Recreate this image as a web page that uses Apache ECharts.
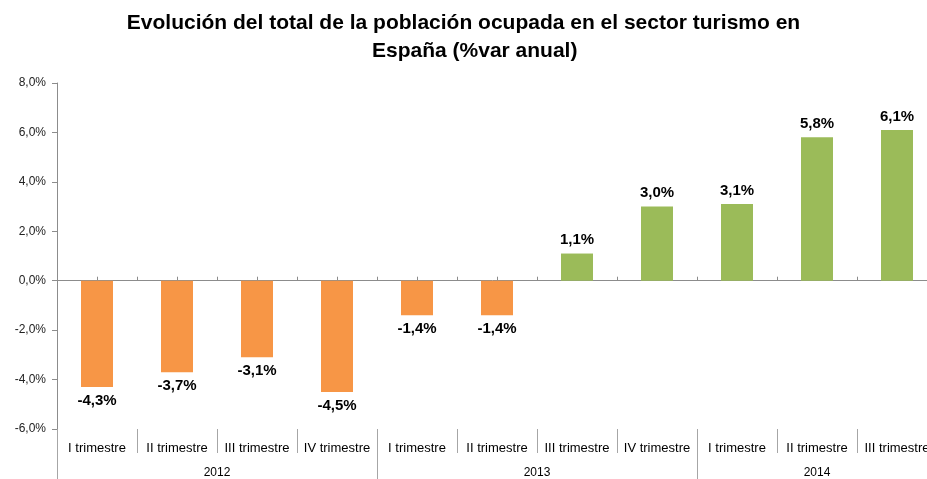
<!DOCTYPE html>
<html>
<head>
<meta charset="utf-8">
<script src="https://cdn.jsdelivr.net/npm/echarts@6/dist/echarts.min.js"></script>
<style>
  html, body { margin: 0; padding: 0; background: #fff; }
  #chart { width: 927px; height: 479px; }
</style>
</head>
<body>
<div id="chart"></div>
<script>
// datos
var titleLines = ['Evolución del total de la población ocupada en el sector turismo en', 'España (%var anual)']
var trimestres = ['I trimestre', 'II trimestre', 'III trimestre', 'IV trimestre',
  'I trimestre', 'II trimestre', 'III trimestre', 'IV trimestre',
  'I trimestre', 'II trimestre', 'III trimestre']
var years = ['2012', '2013', '2014']
var yearCounts = [4, 4, 3]
var values = [-4.3, -3.7, -3.1, -4.5, -1.4, -1.4, 1.1, 3.0, 3.1, 5.8, 6.1]

var fontFamily = 'Liberation Sans'
var orange = '#F79646'
var green = '#9BBB59'
var axisGrey = '#8C8C8C'

function fmt (v, dec) {
  return v.toFixed(dec).replace('.', ',') + '%'
}

// limites y centros de cada grupo de años (en unidades de categoria)
var yearBounds = []
var yearCenters = []
var acc = 0
yearCounts.forEach(function (n) {
  yearBounds.push(acc)
  yearCenters.push(acc + n / 2)
  acc += n
})

var titleStyle = {
  fontFamily: fontFamily,
  fontSize: 21,
  fontWeight: 'bold',
  color: '#000'
}

var chart = echarts.init(document.getElementById('chart'))

var option = {
  animation: false,
  textStyle: { fontFamily: fontFamily },
  title: [
    { text: titleLines[0], left: 'center', top: 13, padding: 0, textStyle: titleStyle },
    { text: titleLines[1], left: 372, top: 41, padding: 0, textStyle: titleStyle }
  ],
  grid: {
    left: 57,
    top: 83,
    width: 880,
    height: 346,
    outerBoundsMode: 'none',
    containLabel: false
  },
  xAxis: [
    {
      // etiquetas de trimestre
      type: 'category',
      data: trimestres,
      position: 'bottom',
      axisLine: { show: false, onZero: false },
      axisTick: { show: true, length: 24, lineStyle: { color: '#A6A6A6' } },
      axisLabel: { margin: 13, fontSize: 13, color: '#000', interval: 0 }
    },
    {
      // etiquetas de año
      type: 'value',
      min: 0,
      max: trimestres.length,
      position: 'bottom',
      axisLine: { show: false, onZero: false },
      splitLine: { show: false },
      axisTick: {
        show: true,
        length: 50,
        customValues: yearBounds,
        lineStyle: { color: '#A6A6A6' }
      },
      axisLabel: {
        margin: 38,
        fontSize: 12,
        color: '#000',
        customValues: yearCenters,
        formatter: function (v) {
          var i = yearCenters.indexOf(v)
          return i >= 0 ? years[i] : ''
        }
      }
    },
    {
      // linea del cero con marcas
      type: 'value',
      min: 0,
      max: trimestres.length,
      interval: 0.5,
      axisLine: { show: true, onZero: true, lineStyle: { color: axisGrey } },
      axisTick: { show: true, length: 4, lineStyle: { color: axisGrey } },
      axisLabel: { show: false },
      splitLine: { show: false }
    }
  ],
  yAxis: {
    type: 'value',
    min: -6,
    max: 8,
    interval: 2,
    axisLine: { show: true, lineStyle: { color: axisGrey } },
    axisTick: { show: true, length: 5, lineStyle: { color: axisGrey } },
    splitLine: { show: false },
    axisLabel: {
      margin: 11,
      fontSize: 12,
      color: '#222',
      formatter: function (v) { return fmt(v, 1) }
    }
  },
  series: [
    {
      type: 'bar',
      xAxisIndex: 0,
      barWidth: 32,
      data: values.map(function (v) {
        return {
          value: v,
          itemStyle: { color: v < 0 ? orange : green },
          label: { position: v < 0 ? 'bottom' : 'top' }
        }
      }),
      label: {
        show: true,
        distance: 6,
        fontSize: 15,
        fontWeight: 'bold',
        color: '#000',
        formatter: function (p) { return fmt(p.value, 1) }
      }
    }
  ]
}

chart.setOption(option)
</script>
</body>
</html>
